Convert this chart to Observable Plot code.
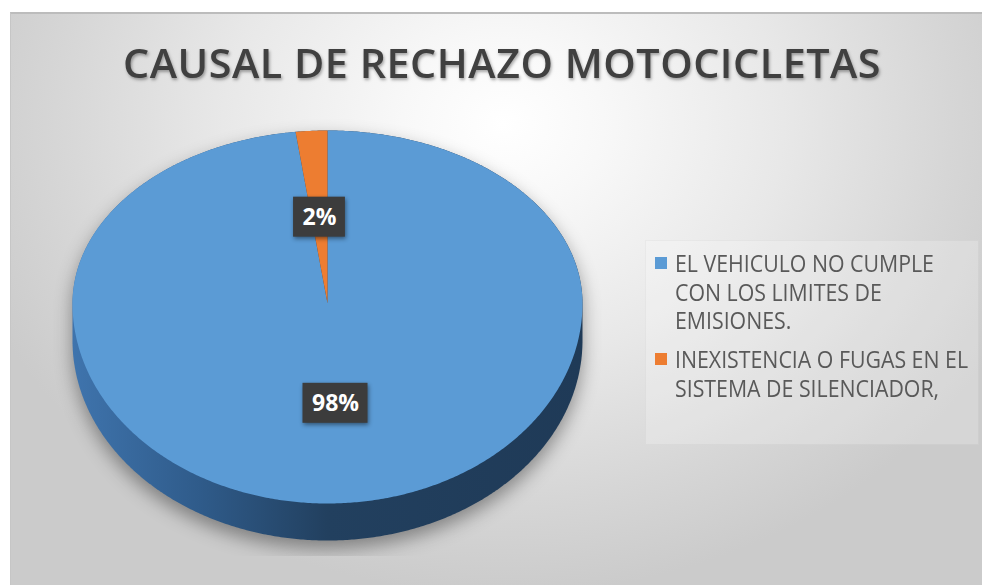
<!DOCTYPE html>
<html>
<head>
<meta charset="utf-8">
<script src="https://cdn.jsdelivr.net/npm/d3@7"></script>
<script src="https://cdn.jsdelivr.net/npm/@observablehq/plot@0.6"></script>
<style>
  html, body { margin: 0; padding: 0; background: #ffffff; }
  #chart { position: relative; width: 982px; height: 585px; overflow: hidden; background: #ffffff; }
  #area {
    position: absolute; left: 10px; top: 12px; width: 972px; height: 573px;
    box-sizing: border-box;
    border-top: 2px solid #bcbcbc; border-left: 1px solid #c6c6c6;
    background: radial-gradient(ellipse 560px 470px at 492px 110px, #ffffff 0%, #f8f8f8 18%, #e8e8e8 50%, #d6d6d6 80%, #cbcbcb 100%);
  }
  #plot { position: absolute; left: 0; top: 0; }
  #title {
    position: absolute; left: 0; top: 43px; width: 1004px; text-align: center;
    font-family: "Open Sans", sans-serif; font-weight: 600; font-size: 39px; line-height: 39px;
    letter-spacing: 0.5px;
    color: #404040; white-space: nowrap;
    text-shadow: 1px 2px 3px rgba(0,0,0,0.35);
  }
  #title span { display: inline-block; transform-origin: 50% 50%; }
  #legendBox {
    position: absolute; left: 645px; top: 240px; width: 334px; height: 205px;
    background: rgba(255,255,255,0.22); border: 1px solid rgba(0,0,0,0.035); box-sizing: border-box;
  }
  .litem { position: absolute; left: 655px; }
  .lsw { position: absolute; left: 0; width: 12px; height: 12px; }
  .ltext {
    position: absolute; left: 20px; top: 0; white-space: pre;
    font-family: "Open Sans", sans-serif; font-size: 23px; line-height: 28.5px; color: #595959;
    transform-origin: 0 0;
  }
</style>
</head>
<body>
<div id="chart">
  <div id="area"></div>
  <div id="plot"></div>
  <div id="title"></div>
  <div id="legendBox"></div>
</div>
<script>
// ---------- data ----------
const title = "CAUSAL DE RECHAZO MOTOCICLETAS";
const legendLines = [
  ["EL VEHICULO NO CUMPLE", "CON LOS LIMITES DE", "EMISIONES."],
  ["INEXISTENCIA O FUGAS EN EL", "SISTEMA DE SILENCIADOR,"]
];
const categories = legendLines.map(l => l.join(" "));
const shares = [98, 2];
const pctLabels = ["98%", "2%"];
const colors = ["#5b9bd5", "#ed7d31"];

// ---------- layout ----------
const W = 982, H = 556;
const CX = 327, CY = 303, RX = 255, RY_TOP = 173, RY_BOT = 200, DEPTH = 37;
const LABEL_R = 0.5;

function pt(a, dy = 0, k = 1) {
  const c = Math.cos(a), s = Math.sin(a);
  return { x: CX + k * RX * s, y: CY - k * (c >= 0 ? RY_TOP : RY_BOT) * c + dy };
}

const rows = categories.map((c, i) => ({ cat: c, share: shares[i], label: pctLabels[i] }));
const arcs = d3.pie().sort(null).value(d => d.share)(rows);

// slice polygons
const slicePts = [];
for (const a of arcs) {
  slicePts.push({ cat: a.data.cat, x: CX, y: CY });
  const n = Math.max(2, Math.ceil((a.endAngle - a.startAngle) / (Math.PI / 360)));
  for (let i = 0; i <= n; i++) {
    const t = a.startAngle + (a.endAngle - a.startAngle) * i / n;
    slicePts.push({ cat: a.data.cat, ...pt(t) });
  }
}

// cylinder body (silhouette): top half of face + shifted bottom half
const bodyPts = [];
const NB = 360;
for (let i = 0; i <= NB; i++) bodyPts.push(pt(-Math.PI / 2 + Math.PI * i / NB));
for (let i = 0; i <= NB; i++) bodyPts.push(pt(Math.PI / 2 + Math.PI * i / NB, DEPTH));

// data labels
const cv = document.createElement("canvas").getContext("2d");
cv.font = "700 23px 'Open Sans'";
const labelRows = arcs.map(a => {
  const m = (a.startAngle + a.endAngle) / 2;
  const p = pt(m, 0, LABEL_R);
  const w = cv.measureText(a.data.label).width + 18;
  const h = 40;
  return { label: a.data.label, x: p.x, y: p.y, x1: p.x - w / 2, x2: p.x + w / 2, y1: p.y - h / 2, y2: p.y + h / 2 };
});

const plot = Plot.plot({
  width: W, height: H, margin: 0,
  style: { background: "transparent" },
  x: { domain: [0, W], range: [0, W], axis: null },
  y: { domain: [0, H], range: [0, H], axis: null },
  color: { domain: categories, range: colors },
  marks: [
    Plot.line(bodyPts, { x: "x", y: "y", fill: "url(#rimGrad)", stroke: "none", curve: "linear-closed" }),
    Plot.line(slicePts, { x: "x", y: "y", z: "cat", fill: "cat", stroke: "none", curve: "linear-closed" }),
    Plot.rect(labelRows, { x1: "x1", x2: "x2", y1: "y1", y2: "y2", fill: "#3c3c3c" }),
    Plot.text(labelRows, { x: "x", y: "y", text: "label", fill: "white", fontSize: 23, fontWeight: 700, fontFamily: "Open Sans" })
  ]
});

const svg = d3.select(plot);
svg.insert("defs", ":first-child").html(`
  <linearGradient id="rimGrad" x1="0" x2="1" y1="0" y2="0">
    <stop offset="0" stop-color="#3f74ad"/>
    <stop offset="0.25" stop-color="#2f5b8a"/>
    <stop offset="0.5" stop-color="#22405f"/>
    <stop offset="1" stop-color="#1f3a57"/>
  </linearGradient>`);
const lineGs = svg.selectAll('g[aria-label="line"]');
d3.select(lineGs.nodes()[0]).style("filter", "drop-shadow(0px 8px 9px rgba(0,0,0,0.38))");
svg.selectAll('g[aria-label="rect"]').style("filter", "drop-shadow(1px 2px 2px rgba(0,0,0,0.45))");
document.getElementById("plot").appendChild(plot);

// title (scaled to the reference's condensed width)
const tspan = document.createElement("span");
tspan.textContent = title;
document.getElementById("title").appendChild(tspan);
const tw = tspan.getBoundingClientRect().width;
tspan.style.transform = `scaleX(${758 / tw})`;

// legend
const chart = document.getElementById("chart");
const itemTops = [249, 345];
let maxW = 0;
const textEls = [];
legendLines.forEach((lines, i) => {
  const item = document.createElement("div");
  item.className = "litem";
  item.style.top = itemTops[i] + "px";
  const sw = document.createElement("div");
  sw.className = "lsw";
  sw.style.top = "8px";
  sw.style.background = colors[i];
  item.appendChild(sw);
  const t = document.createElement("div");
  t.className = "ltext";
  t.textContent = lines.join("\n");
  item.appendChild(t);
  textEls.push(t);
  chart.appendChild(item);
});
textEls.forEach(t => { maxW = Math.max(maxW, t.getBoundingClientRect().width); });
const ls = 293 / maxW;
textEls.forEach(t => { t.style.transform = `scaleX(${ls})`; });
</script>
</body>
</html>
